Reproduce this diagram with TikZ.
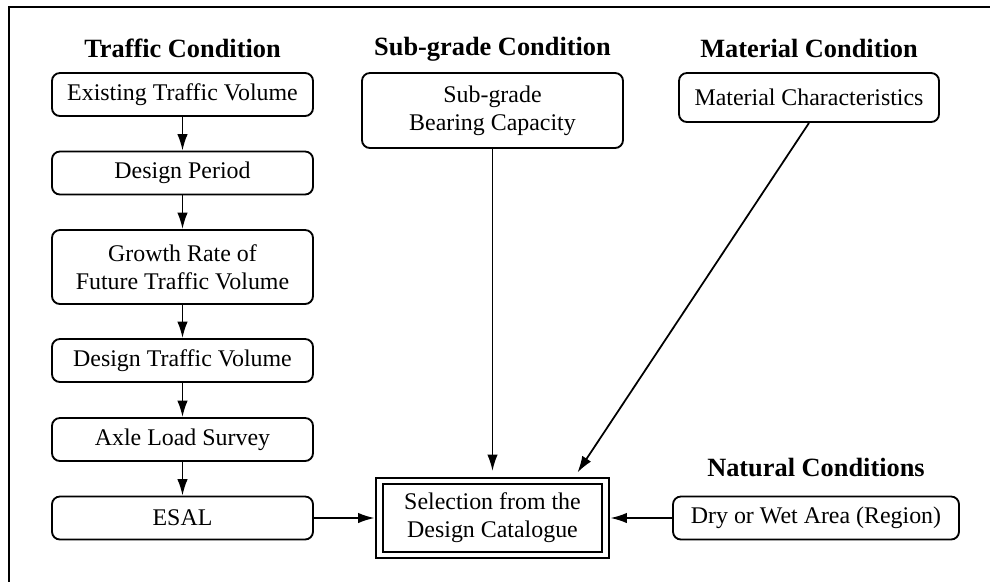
\documentclass[tikz,border=0pt]{standalone}
\usepackage{fontspec}
\setmainfont{Liberation Serif}
\usetikzlibrary{arrows.meta}
\usetikzlibrary{positioning}

\tikzset{
    box/.style={draw, rounded corners=4.5pt, line width=1.05pt, align=center,
        minimum width=5.22cm, minimum height=0.86cm, inner sep=2pt,
        font=\fontsize{13.6}{16}\selectfont},
    head/.style={font=\fontsize{15}{17}\selectfont\bfseries},
    flow/.style={-{Latex[length=3.3mm,width=2.1mm]}, line width=1pt},
}

\begin{document}
\begin{tikzpicture}
    \useasboundingbox (0,0) rectangle (19.8,-11.62);

    % outer frame
    \begin{scope}
        \clip (0,0) rectangle (19.8,-11.62);
        \draw[line width=1.2pt] (0.18,-13) |- (21,-0.14);
    \end{scope}

    % Traffic condition
    \node[head] (thead) at (3.65,-0.96) {Traffic Condition};
    \node[box] (etv) at (3.65,-1.89) {Existing Traffic Volume};
    \node[box] (dp) at (3.65,-3.46) {Design Period};
    \node[box, minimum height=1.48cm] (gr) at (3.65,-5.34) {Growth Rate of\\Future Traffic Volume};
    \node[box] (dtv) at (3.65,-7.21) {Design Traffic Volume};
    \node[box] (als) at (3.65,-8.79) {Axle Load Survey};
    \node[box] (esal) at (3.65,-10.36) {ESAL};

    % Sub-grade condition
    \node[head] (shead) at (9.85,-0.98) {Sub-grade Condition};
    \node[box, minimum height=1.5cm] (sbc) at (9.85,-2.21) {Sub-grade\\Bearing Capacity};

    % Material condition
    \node[head] (mhead) at (16.18,-0.96) {Material Condition};
    \node[box, minimum width=5.2cm, minimum height=0.98cm] (mc) at (16.18,-1.95) {Material Characteristics};

    % Natural conditions
    \node[head] (nhead) at (16.32,-9.36) {Natural Conditions};
    \node[box, minimum width=5.72cm] (dry) at (16.32,-10.36) {Dry or Wet Area (Region)};

    % Catalogue
    \node[draw, double, line width=1.1pt, double distance=2.4pt, align=center,
        minimum width=4.52cm, minimum height=1.48cm, inner sep=2pt,
        font=\fontsize{13.6}{16}\selectfont] (sel) at (9.85,-10.36)
        {Selection from the\\Design Catalogue};

    % Lines
    \draw[flow] (etv) -- (dp);
    \draw[flow] (dp) -- (gr);
    \draw[flow] (gr) -- (dtv);
    \draw[flow] (dtv) -- (als);
    \draw[flow] (als) -- (esal);
    \draw[flow, shorten >=0.08cm] (esal) -- (sel);
    \draw[flow, shorten >=0.08cm] (dry) -- (sel);
    \draw[flow, shorten >=0.18cm] (sbc) -- (sel);
    \draw[flow, shorten >=0.18cm] (mc.south) -- ([xshift=1.6cm]sel.north);
\end{tikzpicture}
\end{document}
